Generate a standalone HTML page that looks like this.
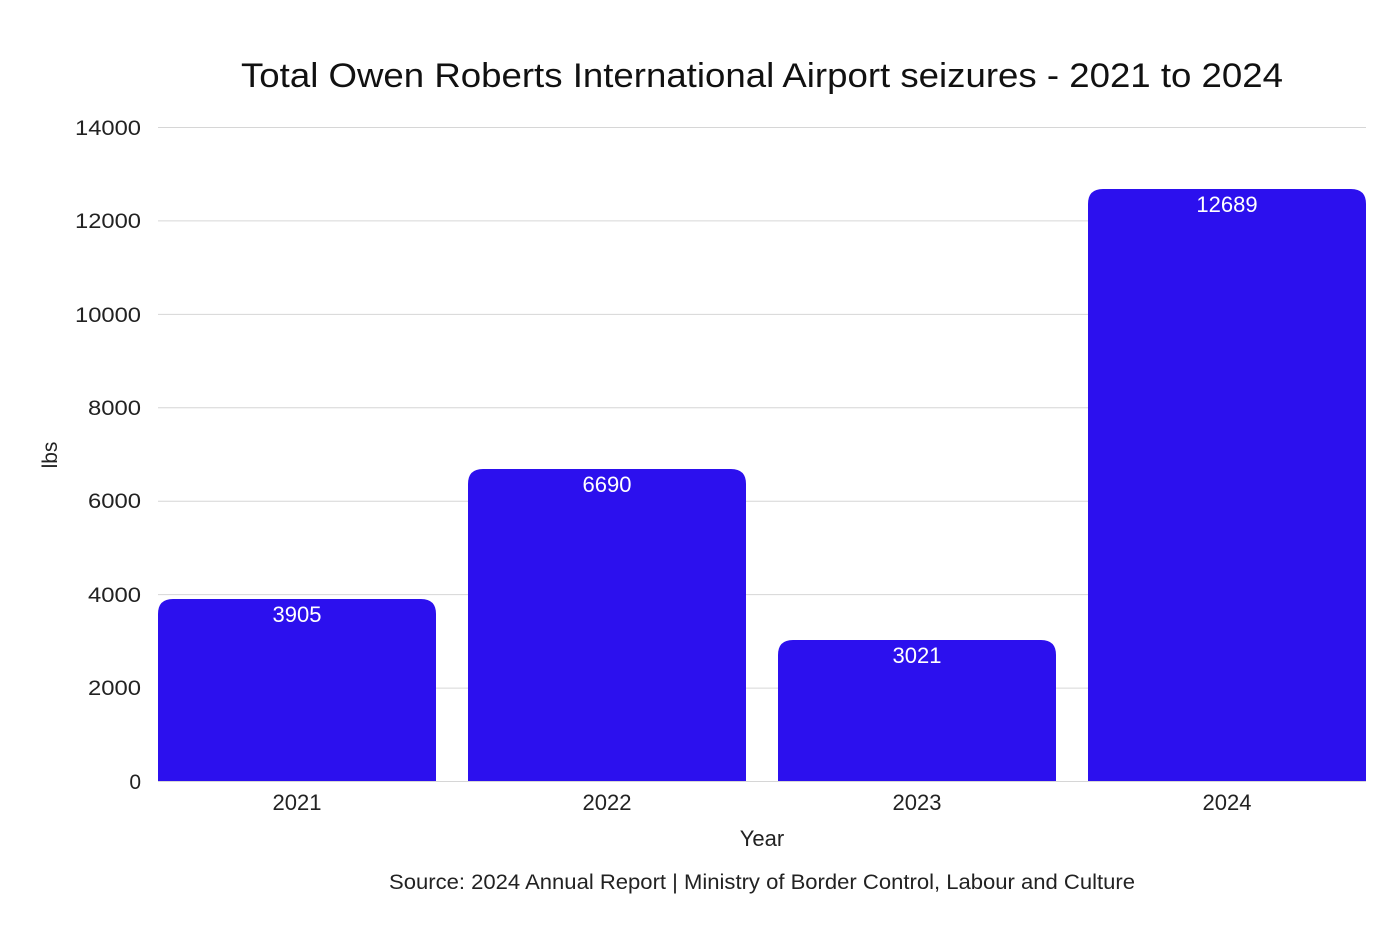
<!DOCTYPE html>
<html><head><style>
body{margin:0;background:#fff;}
svg{display:block;font-family:"Liberation Sans",sans-serif;}
</style></head><body>
<svg width="1392" height="928" viewBox="0 0 1392 928">
<rect width="1392" height="928" fill="#fff"/>
<text x="241" y="87" font-size="34" textLength="1042" lengthAdjust="spacingAndGlyphs" fill="#111">Total Owen Roberts International Airport seizures - 2021 to 2024</text>
<g stroke="#d6d6d6" stroke-width="1">
<line x1="158" x2="1366" y1="127.5" y2="127.5"/>
<line x1="158" x2="1366" y1="220.9" y2="220.9"/>
<line x1="158" x2="1366" y1="314.4" y2="314.4"/>
<line x1="158" x2="1366" y1="407.8" y2="407.8"/>
<line x1="158" x2="1366" y1="501.2" y2="501.2"/>
<line x1="158" x2="1366" y1="594.6" y2="594.6"/>
<line x1="158" x2="1366" y1="688.1" y2="688.1"/>
<line x1="158" x2="1366" y1="781.5" y2="781.5"/>
</g>
<g font-size="21" fill="#222">
<text x="75" y="135" textLength="66" lengthAdjust="spacingAndGlyphs">14000</text>
<text x="75" y="228" textLength="66" lengthAdjust="spacingAndGlyphs">12000</text>
<text x="75" y="322" textLength="66" lengthAdjust="spacingAndGlyphs">10000</text>
<text x="88" y="415" textLength="53" lengthAdjust="spacingAndGlyphs">8000</text>
<text x="88" y="508" textLength="53" lengthAdjust="spacingAndGlyphs">6000</text>
<text x="88" y="602" textLength="53" lengthAdjust="spacingAndGlyphs">4000</text>
<text x="88" y="695" textLength="53" lengthAdjust="spacingAndGlyphs">2000</text>
<text x="141" y="789" text-anchor="end">0</text>
</g>
<text transform="translate(57,455) rotate(-90)" font-size="21" text-anchor="middle" fill="#222">lbs</text>
<g fill="#2c10ee">
<path d="M158,781 V614 Q158,599 173,599 H421 Q436,599 436,614 V781 Z"/>
<path d="M468,781 V484 Q468,469 483,469 H731 Q746,469 746,484 V781 Z"/>
<path d="M778,781 V655 Q778,640 793,640 H1041 Q1056,640 1056,655 V781 Z"/>
<path d="M1088,781 V204 Q1088,189 1103,189 H1351 Q1366,189 1366,204 V781 Z"/>
</g>
<g font-size="22" fill="#fff" text-anchor="middle">
<text x="297" y="622">3905</text>
<text x="607" y="492">6690</text>
<text x="917" y="663">3021</text>
<text x="1227" y="212">12689</text>
</g>
<g font-size="22" fill="#222" text-anchor="middle">
<text x="297" y="810">2021</text>
<text x="607" y="810">2022</text>
<text x="917" y="810">2023</text>
<text x="1227" y="810">2024</text>
<text x="762" y="846">Year</text>
</g>
<text x="389" y="889" font-size="21" textLength="746" lengthAdjust="spacingAndGlyphs" fill="#222">Source: 2024 Annual Report | Ministry of Border Control, Labour and Culture</text>
</svg>
</body></html>
